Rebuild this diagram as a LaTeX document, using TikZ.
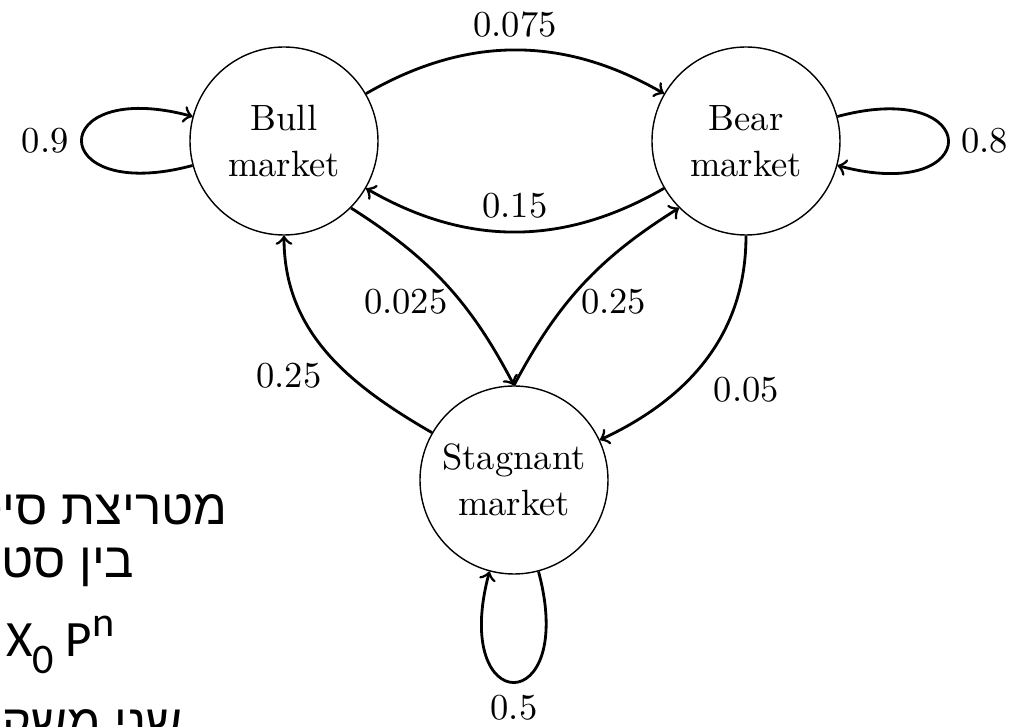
\documentclass[tikz,border=0pt]{standalone}
\usepackage{fontspec}
\newfontfamily\hebfont[Script=Hebrew]{Liberation Sans}
\newfontfamily\slidefont{Carlito}
\TeXXeTstate=1
\newcommand{\slidesub}[1]{\raisebox{-4.6pt}{\fontsize{12}{14}\selectfont #1}}
\newcommand{\slidesup}[1]{\raisebox{5.7pt}{\fontsize{12}{14}\selectfont #1}}
\begin{document}
\begin{tikzpicture}[
    font=\fontsize{10.4}{13}\selectfont,
    mstate/.style={circle, draw, minimum size=1.88cm, inner sep=0pt, align=center},
    slide/.style={anchor=base east, inner sep=0pt, font=\hebfont\fontsize{14}{17}\selectfont}]
  \clip (0,0) rectangle (10.21,7.27);
  \draw
    (2.84,5.86) node[mstate] (bull){Bull\\market}
    (7.46,5.86) node[mstate] (bear){Bear\\market}
    (5.14,2.47) node[mstate] (stag){Stagnant\\market};
  \begin{scope}[->, thick]
    \draw (bull) to[bend left=30] node[above] {0.075} (bear);
    \draw (bear) to[bend left=30] node[above] {0.15} (bull);
    \draw (bull.south east) to[bend left=15] node[pos=0.6, left] {0.025} (stag.north);
    \draw (stag.north) to[bend left=15] node[pos=0.4, right] {0.25} (bear.south west);
    \draw (stag) to[out=150, in=-90] node[pos=0.37, left=1.5mm] {0.25} (bull);
    \draw (bear) to[out=-90, in=25] node[pos=0.66, right=2.2mm] {0.05} (stag);
    \draw (bull) to[loop left] node[left] {0.9} (bull);
    \draw (bear) to[loop right] node[right] {0.8} (bear);
    \draw (stag) to[loop below] node[below] {0.5} (stag);
  \end{scope}
  % slide text, cut at the edges
  \node[slide] (title) at (2.28,2.02) {\beginR מטריצת סיכ\endR};
  \node[slide] (between) at (1.35,1.49) {\beginR בין סט\endR};
  \node[slide, font=\slidefont\fontsize{14.5}{17}\selectfont] (power) at (1.15,0.70)
    {X\slidesub{0} P\slidesup{n}};
  \node[slide] (weights) at (1.83,-0.13) {\beginR שני משקל\endR};
\end{tikzpicture}
\end{document}
